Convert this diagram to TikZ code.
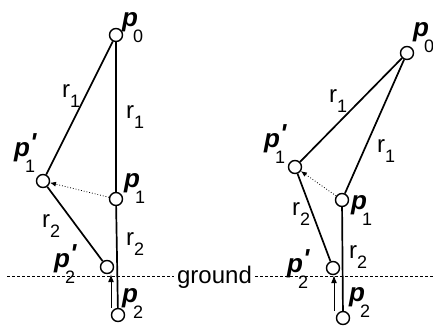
\documentclass[tikz,border=0pt]{standalone}
\usepackage{fontspec}
\setmainfont{Liberation Sans}
\usetikzlibrary{arrows.meta}

% joint name: bold italic p, optional prime, lowered index
\newcommand{\ptname}[2]{{\fontsize{26}{26}\selectfont\textbf{\textit{p}}\makebox[0pt][l]{\raisebox{5pt}{\textbf{\textit{#2}}}}}\kern-5pt\raisebox{-16pt}{\fontsize{18}{18}\selectfont #1}}
% link length: r with lowered index
\newcommand{\rname}[1]{r\raisebox{-10pt}{\fontsize{18}{18}\selectfont #1}}

\begin{document}
\begin{tikzpicture}[
    x=1pt, y=-1pt,
    font=\fontsize{24}{24}\selectfont,
    joint/.style={
        draw,
        circle,
        fill=white,
        line width=1.4pt,
        minimum size=13pt,
        inner sep=0pt
    },
    link/.style={
        draw,
        line width=1.7pt
    },
    moveline/.style={
        draw,
        dotted,
        line width=0.8pt,
        -{Latex[length=6pt,width=5pt]}
    },
    liftarrow/.style={
        draw,
        line width=1pt,
        -{Latex[length=8pt,width=6pt]}
    },
    groundline/.style={
        draw,
        line width=0.8pt,
        dash pattern=on 3pt off 2pt
    },
    lbl/.style={
        anchor=base west,
        inner sep=0pt
    }
]
\useasboundingbox (0,0) rectangle (433,325);

% ================= GROUND =================
\node[anchor=base, inner sep=0pt, inner xsep=3pt] (ground) at (214.5,283) {ground};
\coordinate (gl) at (7,276);
\coordinate (gr) at (433,276);
\draw[groundline] (gl) -- (gl -| ground.west);
\draw[groundline] (gl -| ground.east) -- (gr);

% ================= LEFT POSE =================
\node[joint] (a0) at (116,35) {};
\node[joint] (a1n) at (43,181) {};
\node[joint] (a1) at (116,199) {};
\node[joint] (a2n) at (107,267) {};
\node[joint] (a2) at (118,315) {};

\draw[link] (a0) -- (a1);
\draw[link] (a1) -- (a2);
\draw[link] (a0) -- (a1n);
\draw[link] (a1n) -- (a2n);
\draw[moveline] (a1) -- (a1n);
\draw[liftarrow] ([xshift=-7pt]a2.north) -- ([xshift=-7pt]a2.north |- a2n.south);

\node[lbl] (a0lbl) at (122,26) {\ptname{0}{}};
\node[lbl] (a1nlbl) at (14,156) {\ptname{1}{\textquotesingle}};
\node[lbl] (a1lbl) at (124,187) {\ptname{1}{}};
\node[lbl] (a2nlbl) at (54,267) {\ptname{2}{\textquotesingle}};
\node[lbl] (a2lbl) at (122,302) {\ptname{2}{}};

\node[lbl] (ar1n) at (62,97) {\rname{1}};
\node[lbl] (ar1) at (126,118) {\rname{1}};
\node[lbl] (ar2n) at (42,227) {\rname{2}};
\node[lbl] (ar2) at (126,245) {\rname{2}};

% ================= RIGHT POSE =================
\node[joint] (b0) at (407,53) {};
\node[joint] (b1n) at (295,167) {};
\node[joint] (b1) at (342,200) {};
\node[joint] (b2n) at (333,268) {};
\node[joint] (b2) at (343,318) {};

\draw[link] (b0) -- (b1);
\draw[link] (b1) -- (b2);
\draw[link] (b0) -- (b1n);
\draw[link] (b1n) -- (b2n);
\draw[moveline] (b1) -- (b1n);
\draw[liftarrow] ([xshift=-9pt]b2.north) -- ([xshift=-9pt]b2.north |- b2n.south);

\node[lbl] (b0lbl) at (413,36) {\ptname{0}{}};
\node[lbl] (b1nlbl) at (264,147) {\ptname{1}{\textquotesingle}};
\node[lbl] (b1lbl) at (351,209) {\ptname{1}{}};
\node[lbl] (b2nlbl) at (287,272) {\ptname{2}{\textquotesingle}};
\node[lbl] (b2lbl) at (349,301) {\ptname{2}{}};

\node[lbl] (br1n) at (329,102) {\rname{1}};
\node[lbl] (br1) at (377,152) {\rname{1}};
\node[lbl] (br2n) at (292,215) {\rname{2}};
\node[lbl] (br2) at (349,258) {\rname{2}};

\end{tikzpicture}
\end{document}
